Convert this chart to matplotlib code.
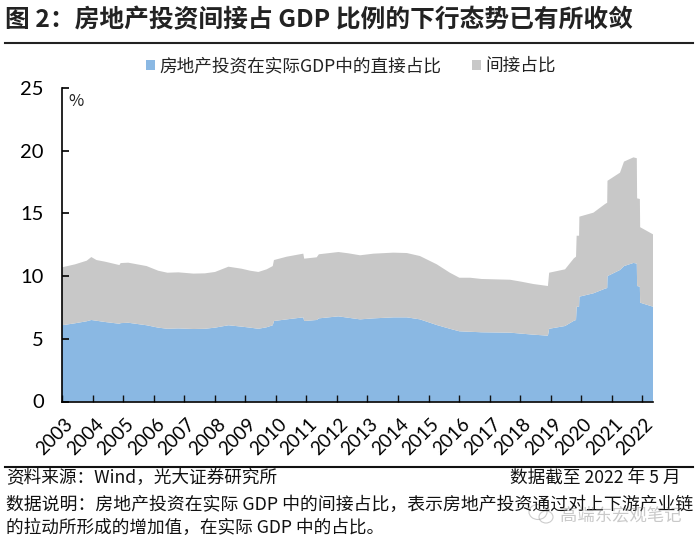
#!/usr/bin/env python3

import matplotlib
matplotlib.use('Agg')
import matplotlib.pyplot as plt
from matplotlib.lines import Line2D
from matplotlib.patches import Ellipse
from matplotlib.transforms import ScaledTranslation

plt.rcParams['font.family'] = ['Noto Sans CJK SC', 'DejaVu Sans']

W, H = 700, 543

# Year as decimal
years = [2003.00, 2003.43, 2003.81, 2003.96, 2004.13, 2004.41, 2004.88, 2004.92, 2005.17, 2005.77,
         2006.15, 2006.45, 2006.81, 2007.30, 2007.68, 2008.01, 2008.45, 2008.88, 2009.16, 2009.43,
         2009.70, 2009.90, 2009.94, 2010.36, 2010.90, 2010.93, 2011.34, 2011.41, 2012.05, 2012.37,
         2012.76, 2013.20, 2013.85, 2014.29, 2014.72, 2015.27, 2015.70, 2016.01, 2016.36, 2016.74,
         2017.67, 2018.05, 2018.43, 2018.91, 2018.95, 2019.47, 2019.76, 2019.83, 2019.85, 2019.93,
         2019.94, 2020.40, 2020.78, 2020.85, 2020.86, 2021.27, 2021.40, 2021.71, 2021.82, 2021.83,
         2021.92, 2021.93, 2022.35]
direct = [6.08, 6.24, 6.40, 6.50, 6.44, 6.34, 6.20, 6.25, 6.28, 6.08,
          5.89, 5.80, 5.83, 5.78, 5.80, 5.89, 6.08, 5.97, 5.89, 5.80,
          5.92, 6.08, 6.42, 6.55, 6.71, 6.42, 6.50, 6.63, 6.79, 6.68,
          6.55, 6.63, 6.71, 6.71, 6.55, 6.10, 5.80, 5.60, 5.56, 5.52,
          5.49, 5.41, 5.33, 5.25, 5.80, 6.02, 6.44, 6.50, 7.56, 7.56,
          8.36, 8.63, 9.00, 9.05, 10.00, 10.49, 10.80, 11.05, 11.00, 9.21,
          9.16, 7.88, 7.56]
indirect = [4.62, 4.70, 4.83, 5.02, 4.84, 4.81, 4.68, 4.79, 4.79, 4.72,
            4.54, 4.47, 4.47, 4.42, 4.42, 4.44, 4.67, 4.62, 4.54, 4.53,
            4.62, 4.72, 4.86, 5.00, 5.08, 4.97, 5.00, 5.11, 5.13, 5.14,
            5.11, 5.16, 5.16, 5.13, 5.05, 4.84, 4.47, 4.27, 4.31, 4.25,
            4.22, 4.14, 4.04, 3.96, 4.47, 4.52, 4.98, 5.05, 5.66, 5.66,
            6.38, 6.43, 6.75, 6.80, 7.60, 7.76, 8.33, 8.42, 8.40, 6.99,
            6.99, 6.02, 5.77]
year_ticks = list(range(2003, 2023))
y_ticks = [0, 5, 10, 15, 20, 25]

title = '图 2：房地产投资间接占 GDP 比例的下行态势已有所收敛'
legend_labels = ['房地产投资在实际GDP中的直接占比', '间接占比']
source = '资料来源：Wind，光大证券研究所'
cutoff = '数据截至 2022 年 5 月'
note1 = '数据说明：房地产投资在实际 GDP 中的间接占比，表示房地产投资通过对上下游产业链'
note2 = '的拉动所形成的增加值，在实际 GDP 中的占比。'
watermark = '高端东宏观笔记'

fig = plt.figure(figsize=(W / 100, H / 100), dpi=100)
ax = fig.add_axes([62 / W, 1 - 401.5 / H, (653 - 62) / W, (401.5 - 88) / H])

ax.stackplot(years, direct, indirect, colors=['#8ab8e3', '#c8c8c8'], labels=legend_labels, linewidth=0)
ax.set_xlim(2003, 2022.35)
ax.set_ylim(0, 25)
ax.set_xticks(year_ticks)
ax.set_xticklabels(year_ticks, rotation=45, ha='right', rotation_mode='anchor', fontsize=13.5, family='Lato')
ax.set_yticks(y_ticks)
ax.set_yticklabels(y_ticks, fontsize=14.5, family='Lato')
ax.tick_params(axis='y', direction='in', length=5, width=1.3, pad=13, color='#111111')
ax.tick_params(axis='x', direction='in', length=5, width=1.0, pad=10, color='#111111')
shift = ScaledTranslation(1.5 / 72, 0, fig.dpi_scale_trans)
for lab in ax.get_xticklabels():
    lab.set_transform(lab.get_transform() + shift)
ax.spines['top'].set_visible(False)
ax.spines['right'].set_visible(False)
ax.spines['left'].set_linewidth(1.2)
ax.spines['bottom'].set_linewidth(1.2)
ax.text(68 / W, 1 - 101 / H, '%', transform=fig.transFigure, fontsize=12, va='center', color='#222222')

fig.legend(loc='center', bbox_to_anchor=(351 / W, 1 - 66 / H), ncol=2, frameon=False, fontsize=12.7,
           handlelength=0.5, handleheight=0.5, handletextpad=0.25, columnspacing=1.75, labelcolor='#222222')

fig.text(5 / W, 1 - 20 / H, title, fontsize=17.8, fontweight='bold', va='center', ha='left', color='#222222')
fig.add_artist(Line2D([5 / W, 693 / W], [1 - 42.5 / H] * 2, color='#222222', linewidth=1.5))
fig.add_artist(Line2D([5 / W, 693 / W], [1 - 466.5 / H] * 2, color='#111111', linewidth=1.5))

fig.text(6 / W, 1 - 478 / H, source, fontsize=12.7, va='center', color='#111111')
fig.text(681 / W, 1 - 478 / H, cutoff, fontsize=12.7, va='center', ha='right', color='#111111')
fig.text(6 / W, 1 - 505 / H, note1, fontsize=12.85, va='center', color='#111111')
fig.text(6 / W, 1 - 528 / H, note2, fontsize=12.7, va='center', color='#111111')

# faint watermark with its little chat icon
fig.text(560 / W, 1 - 515 / H, watermark, fontsize=12.5, va='center', color='#888888', alpha=0.45)
for cx, cy, w, h in [(538, 512, 18, 15), (546, 517, 14, 12)]:
    fig.add_artist(Ellipse((cx / W, 1 - cy / H), w / W, h / H, transform=fig.transFigure,
                           fill=False, edgecolor='#999999', linewidth=0.8, alpha=0.5))

fig.savefig('out.png', dpi=100)
